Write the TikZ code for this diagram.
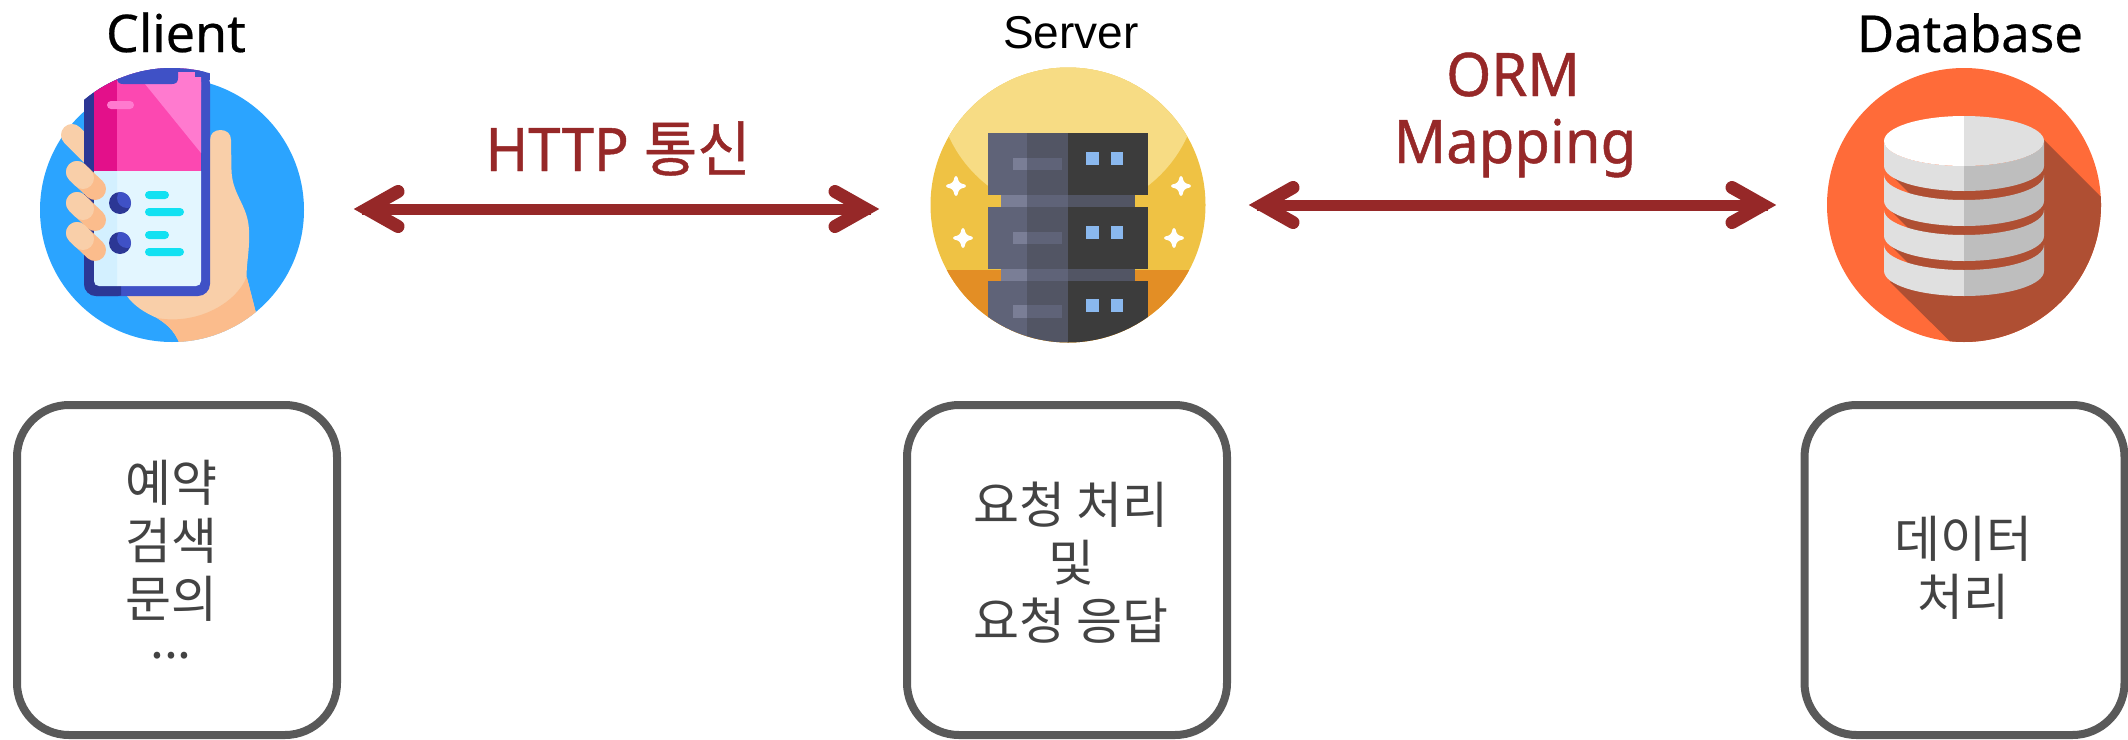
\documentclass[tikz,border=0pt]{standalone}
\usepackage{fontspec}
\setmainfont{Noto Sans}
\newfontfamily\kr{Noto Sans CJK KR}
\newfontfamily\lib{Liberation Sans}
\newfontfamily\linkfont[FakeBold=0.8,FakeStretch=0.965]{Noto Sans}
\newfontfamily\linkkr[FakeBold=0.8,FakeStretch=0.965]{Noto Sans CJK KR}
\newfontfamily\headfont[FakeBold=0.4]{Noto Sans}
\definecolor{arrowred}{HTML}{962828}
\definecolor{boxgray}{HTML}{595959}
\definecolor{textgray}{HTML}{434343}
\definecolor{cblue}{HTML}{2BA4FF}
\definecolor{phoneb}{HTML}{3F51C6}
\definecolor{phoned}{HTML}{2C3795}
\definecolor{pinkm}{HTML}{FC48B1}
\definecolor{pinkd}{HTML}{E3108A}
\definecolor{pinkl}{HTML}{FF7ACF}
\definecolor{scrl}{HTML}{E3F6FF}
\definecolor{scrd}{HTML}{D3F0FF}
\definecolor{cyanb}{HTML}{12E1F2}
\definecolor{skinl}{HTML}{F9CFA9}
\definecolor{skind}{HTML}{FBBC8C}
\definecolor{srvtop}{HTML}{F7DC84}
\definecolor{srvmid}{HTML}{EFC244}
\definecolor{srvlow}{HTML}{E38E25}
\definecolor{rackl}{HTML}{5F6378}
\definecolor{rackm}{HTML}{525564}
\definecolor{rackd}{HTML}{3C3C3C}
\definecolor{rackh}{HTML}{7A7E96}
\definecolor{led}{HTML}{8AB8EE}
\definecolor{dborange}{HTML}{FF6B39}
\definecolor{dbshadow}{HTML}{AF4F33}
\definecolor{cyll}{HTML}{E0E0E0}
\definecolor{cylr}{HTML}{BEBEBE}
\tikzset{
  infobox/.style={draw=boxgray,line width=8pt,rounded corners=52pt,minimum width=320pt,minimum height=330pt,inner sep=0pt},
  boxtext/.style={text=textgray,align=center,font=\kr\fontsize{50}{58}\selectfont,inner sep=0pt},
  headtext/.style={text=black,anchor=base,inner sep=0pt},
  linktext/.style={text=arrowred,anchor=base,inner sep=0pt,font=\linkfont\fontsize{60}{67}\selectfont},
  shaft/.style={draw=arrowred,line width=11pt,shorten >=8pt,shorten <=8pt},
  barb/.style={draw=arrowred,line width=13pt,line cap=round,miter limit=10},
  icon/.style={circle,inner sep=0pt,minimum size=#1}
}
\newcommand\leftbarb[1]{\draw[barb] ([shift={(44,-17.5)}]#1) -- ([shift={(13,0)}]#1) -- ([shift={(44,17.5)}]#1);}
\newcommand\rightbarb[1]{\draw[barb] ([shift={(-44,-17.5)}]#1) -- ([shift={(-13,0)}]#1) -- ([shift={(-44,17.5)}]#1);}
\newcommand\sparkle[2]{\fill[white,draw=white,line width=3pt,line join=round,shift={(#1,#2)}]
  (0,-8.5) .. controls (1,-3) and (3,-1) .. (8.5,0) .. controls (3,1) and (1,3) .. (0,8.5)
  .. controls (-1,3) and (-3,1) .. (-8.5,0) .. controls (-3,-1) and (-1,-3) .. (0,-8.5) -- cycle;}
\newcommand\rackunit[1]{%
  \fill[rackl,shift={(0,#1)}] (988,133) rectangle (1027,195);
  \fill[rackm,shift={(0,#1)}] (1027,133) rectangle (1068,195);
  \fill[rackd,shift={(0,#1)}] (1068,133) rectangle (1148,195);
  \fill[rackh,shift={(0,#1)}] (1013,158) rectangle (1027,170);
  \fill[rackl,shift={(0,#1)}] (1027,158) rectangle (1062,170);
  \fill[led,shift={(0,#1)}] (1086,152) rectangle (1099,165);
  \fill[led,shift={(0,#1)}] (1111,152) rectangle (1123,165);}
\newcommand\rackjoin[1]{%
  \fill[rackh,shift={(0,#1)}] (1001,195) rectangle (1027,207);
  \fill[rackl,shift={(0,#1)}] (1027,195) rectangle (1068,207);
  \fill[rackm,shift={(0,#1)}] (1068,195) rectangle (1135,207);}
\newcommand\cylseg[2]{%
  \fill[cyll] (1884,#1) .. controls (1884,#1+13.8) and (1919.8,#1+25) .. (1964,#1+25)
     -- (1964,#2+25) .. controls (1919.8,#2+25) and (1884,#2+13.8) .. (1884,#2) -- cycle;
  \fill[cylr] (2044,#1) .. controls (2044,#1+13.8) and (2008.2,#1+25) .. (1964,#1+25)
     -- (1964,#2+25) .. controls (2008.2,#2+25) and (2044,#2+13.8) .. (2044,#2) -- cycle;}
\newcommand\gapshadow[1]{\fill[dbshadow] (1885,#1) -- (1917,#1+32) -- (2044,#1+32) -- (2044,#1) -- cycle;}
\begin{document}
\begin{tikzpicture}[x=1pt,y=-1pt]
\useasboundingbox (0,0) rectangle (2128,739);
% ---------- client icon
\node[icon=264pt,fill=cblue] (clientIcon) at (172,210) {};
\begin{scope}
  \clip (172,210) circle[radius=132];
  \fill[skinl] (210,140) .. controls (210,134) and (214,130) .. (220.5,130)
     .. controls (227,130) and (231,134) .. (231,140) -- (231.5,170)
     .. controls (232,195) and (248,205) .. (249,230)
     .. controls (250,250) and (246,265) .. (246.7,277) -- (255.7,312) -- (256,345) -- (180,345)
     .. controls (175,330) and (165,323) .. (157,318)
     .. controls (145,313) and (133,305) .. (127,296) -- cycle;
  \fill[skind] (246.7,277) .. controls (235,305) and (195,325) .. (157,318)
     .. controls (165,323) and (175,330) .. (180,345) -- (260,345) -- (255.7,312) -- cycle;
\end{scope}
\draw[skinl,line width=22pt,line cap=round] (72,135) -- (95,158);
\begin{scope}
  \clip (172,205) circle[radius=137];
  \fill[phoneb,rounded corners=12pt] (84,50) -- (84,296) -- (210,296) -- (210,71) -- (84,71) -- cycle;
  \fill[phoneb] (84,50) rectangle (210,80);
  \begin{scope}
    \clip (80,40) rectangle (121,300);
    \fill[phoned,rounded corners=12pt] (84,40) rectangle (130,296);
  \end{scope}
  \fill[pinkd] (94,40) rectangle (117,171);
  \fill[pinkm] (117,60) rectangle (201,171);
  \fill[pinkl] (145,84) -- (201,153) -- (201,60) -- (145,60) -- cycle;
  \fill[phoneb] (195,60) rectangle (205,77);
  \fill[phoneb] (117,50) rectangle (201,72);
  \fill[pinkl] (178,82) .. controls (178,78) and (180,77) .. (183,77) -- (196,77) .. controls (199,77) and (201,79) .. (201,82) -- (201,90) -- (178,90) -- cycle;
  \fill[scrl] (117,171) -- (201,171) -- (201,281) .. controls (201,284) and (199,286) .. (196,286) -- (117,286) -- cycle;
  \fill[scrd] (94,171) -- (117,171) -- (117,286) -- (99,286) .. controls (96,286) and (94,284) .. (94,281) -- cycle;
  \fill[phoneb] (117,50) -- (178,50) -- (178,78) .. controls (178,82) and (176,84) .. (172,84) -- (123,84) .. controls (119,84) and (117,82) .. (117,78) -- cycle;
\end{scope}
\fill[pinkl,rounded corners=4pt] (107,101) rectangle (134,109);
\foreach \yy in {203,243}{
  \fill[phoned] (120,\yy) circle[radius=11];
  \begin{scope}
    \clip (120,\yy) circle[radius=11];
    \fill[phoneb] (127,\yy-5) circle[radius=10];
  \end{scope}
}
\foreach \yy/\xe in {191/169,208/184,231/169,248/184}
  \fill[cyanb,rounded corners=4pt] (145,\yy) rectangle (\xe,\yy+8);
\foreach \yy in {172,203,233}{
  \draw[skind,line width=22pt,line cap=round] (77,\yy) -- (95,\yy+17);
  \draw[skinl,line width=22pt,line cap=round] (77,\yy) -- (83,\yy+6);
}
% ---------- server icon
\node[icon=275pt,fill=srvmid] (serverIcon) at (1068,205) {};
\begin{scope}
  \clip (1068,205) circle[radius=137.5];
  \fill[srvtop] (1068,82) circle[radius=131];
  \fill[srvtop] (900,60) rectangle (1240,82);
  \fill[srvlow] (900,270) rectangle (1240,350);
  \rackunit{0}\rackunit{74}
  \fill[rackl] (988,281) rectangle (1027,350);
  \fill[rackm] (1027,281) rectangle (1068,350);
  \fill[rackd] (1068,281) rectangle (1148,350);
  \fill[rackh] (1013,305) rectangle (1027,318);
  \fill[rackl] (1027,305) rectangle (1062,318);
  \fill[led] (1086,299) rectangle (1099,312);
  \fill[led] (1111,299) rectangle (1123,312);
  \rackjoin{0}\rackjoin{74}
\end{scope}
\sparkle{956}{186}\sparkle{963}{238}\sparkle{1181}{186}\sparkle{1174}{238}
% ---------- database icon
\node[icon=274pt,fill=dborange] (dbIcon) at (1964,205) {};
\begin{scope}
  \clip (1964,205) circle[radius=137];
  \fill[dbshadow] (2044,140) -- (2204,300) -- (2204,450) -- (2060,450) -- (1890,282) -- cycle;
\end{scope}
\gapshadow{169}\gapshadow{205}\gapshadow{240}
\cylseg{141}{166}\cylseg{175}{201}\cylseg{210}{236}\cylseg{245}{271}
\fill[white] (1964,116) .. controls (1919.8,116) and (1884,127.2) .. (1884,141) .. controls (1884,154.8) and (1919.8,166) .. (1964,166) -- cycle;
\fill[cyll] (1964,116) .. controls (2008.2,116) and (2044,127.2) .. (2044,141) .. controls (2044,154.8) and (2008.2,166) .. (1964,166) -- cycle;
% ---------- headings
\node[headtext,font=\headfont\fontsize{52}{60}\selectfont] (clientHead) at (176,52) {Client};
\node[headtext,font=\lib\fontsize{46}{54}\selectfont] (serverHead) at (1071,48) {Server};
\node[headtext,font=\headfont\fontsize{51}{60}\selectfont] (dbHead) at (1970,52) {Database};
% ---------- connectors
\coordinate (httpL) at (354,209);
\coordinate (httpR) at (879,209);
\coordinate (ormL) at (1249,205);
\coordinate (ormR) at (1776,205);
\draw[shaft] (httpL) -- (httpR);
\leftbarb{httpL}\rightbarb{httpR}
\draw[shaft] (ormL) -- (ormR);
\leftbarb{ormL}\rightbarb{ormR}
\node[linktext] (httpText) at (618,171) {HTTP {\linkkr 통신}};
\node[linktext] (ormText) at (1513,96) {ORM};
\node[linktext] (mapText) at (1515,163) {Mapping};
% ---------- boxes
\node[infobox] (clientBox) at (177,570) {};
\node[infobox] (serverBox) at (1067,570) {};
\node[infobox] (dbBox) at (1964.5,570) {};
\node[boxtext] (clientText) at (171,541) {예약\\검색\\문의};
\node[boxtext] (clientDots) at (171,656) {...};
\node[boxtext] (serverText) at (1071,563) {요청 처리\\및\\요청 응답};
\node[boxtext] (dbText) at (1963,568) {데이터\\처리};
\end{tikzpicture}
\end{document}
